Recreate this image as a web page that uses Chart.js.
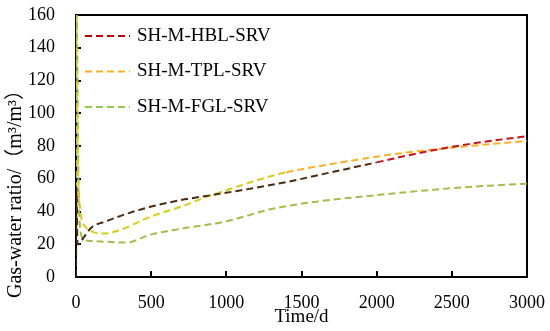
<!DOCTYPE html>
<html>
<head>
<meta charset="utf-8">
<script src="https://cdn.jsdelivr.net/npm/chart.js@4"></script>
<style>
  html, body { margin: 0; padding: 0; background: #fff; }
  #wrap { width: 550px; height: 331px; }
</style>
</head>
<body>
<div id="wrap"><canvas id="chart"></canvas></div>
<script>
// data
const hblTime  = [0, 3, 10, 20, 50, 100, 200, 350, 500, 700, 900, 1100, 1400, 1700, 2000, 2300, 2600, 3000];
const hblRatio = [0, 55, 20, 20, 24, 30, 34, 39, 43, 47, 50, 53, 58, 64, 70, 76, 81, 86];

const tplTime  = [0, 10, 30, 60, 100, 180, 300, 500, 700, 870, 1000, 1200, 1400, 1700, 2000, 2200, 2500, 2800, 3000];
const tplRatio = [160, 80, 40, 31, 28, 26.5, 29, 37, 43, 49, 53, 59, 64, 69, 73.5, 76, 79, 81.5, 83];

const fglTime  = [0, 3, 20, 50, 100, 200, 330, 500, 700, 1000, 1300, 1600, 2000, 2400, 2700, 3000];
const fglRatio = [0, 165, 40, 23, 22, 21.5, 21, 26, 29.5, 34, 41.5, 46, 50, 53.5, 55.5, 57];

const seriesNames = ['SH-M-HBL-SRV', 'SH-M-TPL-SRV', 'SH-M-FGL-SRV'];
const xTicks = [0, 500, 1000, 1500, 2000, 2500, 3000];
const yTicks = [0, 20, 40, 60, 80, 100, 120, 140, 160];
const yTitle = 'Gas-water ratio/（m³/m³）';

const serif = "'Liberation Serif', 'Noto Sans CJK SC', serif";

function points(xs, ys) {
  return xs.map((x, i) => ({ x: x, y: ys[i] }));
}

// frame + inward tick marks
const frameTicks = {
  id: 'frameTicks',
  beforeDatasetsDraw(chart) {
    const ctx = chart.ctx;
    const a = chart.chartArea;
    const xs = chart.scales.x, ys = chart.scales.y;
    ctx.save();
    ctx.strokeStyle = '#000';
    ctx.lineWidth = 2;
    ctx.strokeRect(a.left, a.top, a.right - a.left, a.bottom - a.top);
    ctx.beginPath();
    xTicks.slice(1, -1).forEach(v => {
      const px = Math.round(xs.getPixelForValue(v));
      ctx.moveTo(px, a.bottom);
      ctx.lineTo(px, a.bottom - 6);
    });
    yTicks.slice(1, -1).forEach(v => {
      const py = Math.round(ys.getPixelForValue(v));
      ctx.moveTo(a.left, py);
      ctx.lineTo(a.left + 5, py);
    });
    ctx.stroke();
    ctx.restore();
  },
  afterDraw(chart) {
    // y axis title, sits lower than the plot centre in the original
    const ctx = chart.ctx;
    ctx.save();
    ctx.translate(16, 189);
    ctx.rotate(-Math.PI / 2);
    ctx.font = '20px ' + serif;
    ctx.fillStyle = '#000';
    ctx.textAlign = 'center';
    ctx.textBaseline = 'middle';
    ctx.fillText(yTitle, 0, 0);
    ctx.restore();
  }
};

// legend inside the plot, dashed line samples
const insideLegend = {
  id: 'insideLegend',
  afterDatasetsDraw(chart) {
    const ctx = chart.ctx;
    const a = chart.chartArea;
    ctx.save();
    ctx.font = '19px ' + serif;
    ctx.textBaseline = 'middle';
    chart.data.datasets.forEach((ds, i) => {
      const y = a.top + 21 + i * 35.5;
      ctx.strokeStyle = ds.legendColor;
      ctx.lineWidth = 2;
      ctx.setLineDash([7, 4]);
      ctx.beginPath();
      ctx.moveTo(a.left + 9, y);
      ctx.lineTo(a.left + 54, y);
      ctx.stroke();
      ctx.setLineDash([]);
      ctx.fillStyle = '#000';
      ctx.fillText(ds.label, a.left + 61, y);
    });
    ctx.restore();
  }
};

const noPad = s => { s.paddingLeft = 0; s.paddingRight = 0; s.paddingTop = 0; s.paddingBottom = 0; };

new Chart(document.getElementById('chart'), {
  type: 'line',
  data: {
    datasets: [
      {
        label: seriesNames[0],
        data: points(hblTime, hblRatio),
        borderColor: '#c00000',
        legendColor: '#c00000',
        segment: { borderColor: c => c.p0.parsed.x < 1800 ? '#4a2a12' : '#c8101a' }
      },
      {
        label: seriesNames[1],
        data: points(tplTime, tplRatio),
        borderColor: '#ffb020',
        legendColor: '#ffb020',
        segment: { borderColor: c => c.p0.parsed.x < 1300 ? '#d8cc18' : '#ffb020' }
      },
      {
        label: seriesNames[2],
        data: points(fglTime, fglRatio),
        borderColor: '#a3bd48',
        legendColor: '#92c84a'
      }
    ].map(d => Object.assign({
      borderWidth: 2,
      borderDash: [7, 4],
      pointRadius: 0,
      fill: false,
      cubicInterpolationMode: 'monotone'
    }, d))
  },
  options: {
    responsive: true,
    maintainAspectRatio: false,
    animation: false,
    layout: { autoPadding: false, padding: { top: 15, right: 23, left: 0, bottom: 0 } },
    plugins: {
      legend: { display: false },
      tooltip: { enabled: false }
    },
    scales: {
      x: {
        type: 'linear',
        min: 0,
        max: 3000,
        afterBuildTicks: s => { s.ticks = xTicks.map(v => ({ value: v })); },
        ticks: { color: '#000', font: { family: serif, size: 18 }, padding: 15, maxRotation: 0, callback: v => String(v) },
        grid: { display: false, drawTicks: false },
        border: { display: false },
        title: { display: true, text: 'Time/d', color: '#000', font: { family: serif, size: 19 }, padding: { top: 0, bottom: 3 } },
        afterFit: s => { s.height = 54; noPad(s); }
      },
      y: {
        min: 0,
        max: 160,
        afterBuildTicks: s => { s.ticks = yTicks.map(v => ({ value: v })); },
        ticks: { color: '#000', font: { family: serif, size: 18 }, padding: 21, callback: v => String(v) },
        grid: { display: false, drawTicks: false },
        border: { display: false },
        title: { display: false },
        afterFit: s => { s.width = 76; noPad(s); }
      }
    }
  },
  plugins: [frameTicks, insideLegend]
});
</script>
</body>
</html>
